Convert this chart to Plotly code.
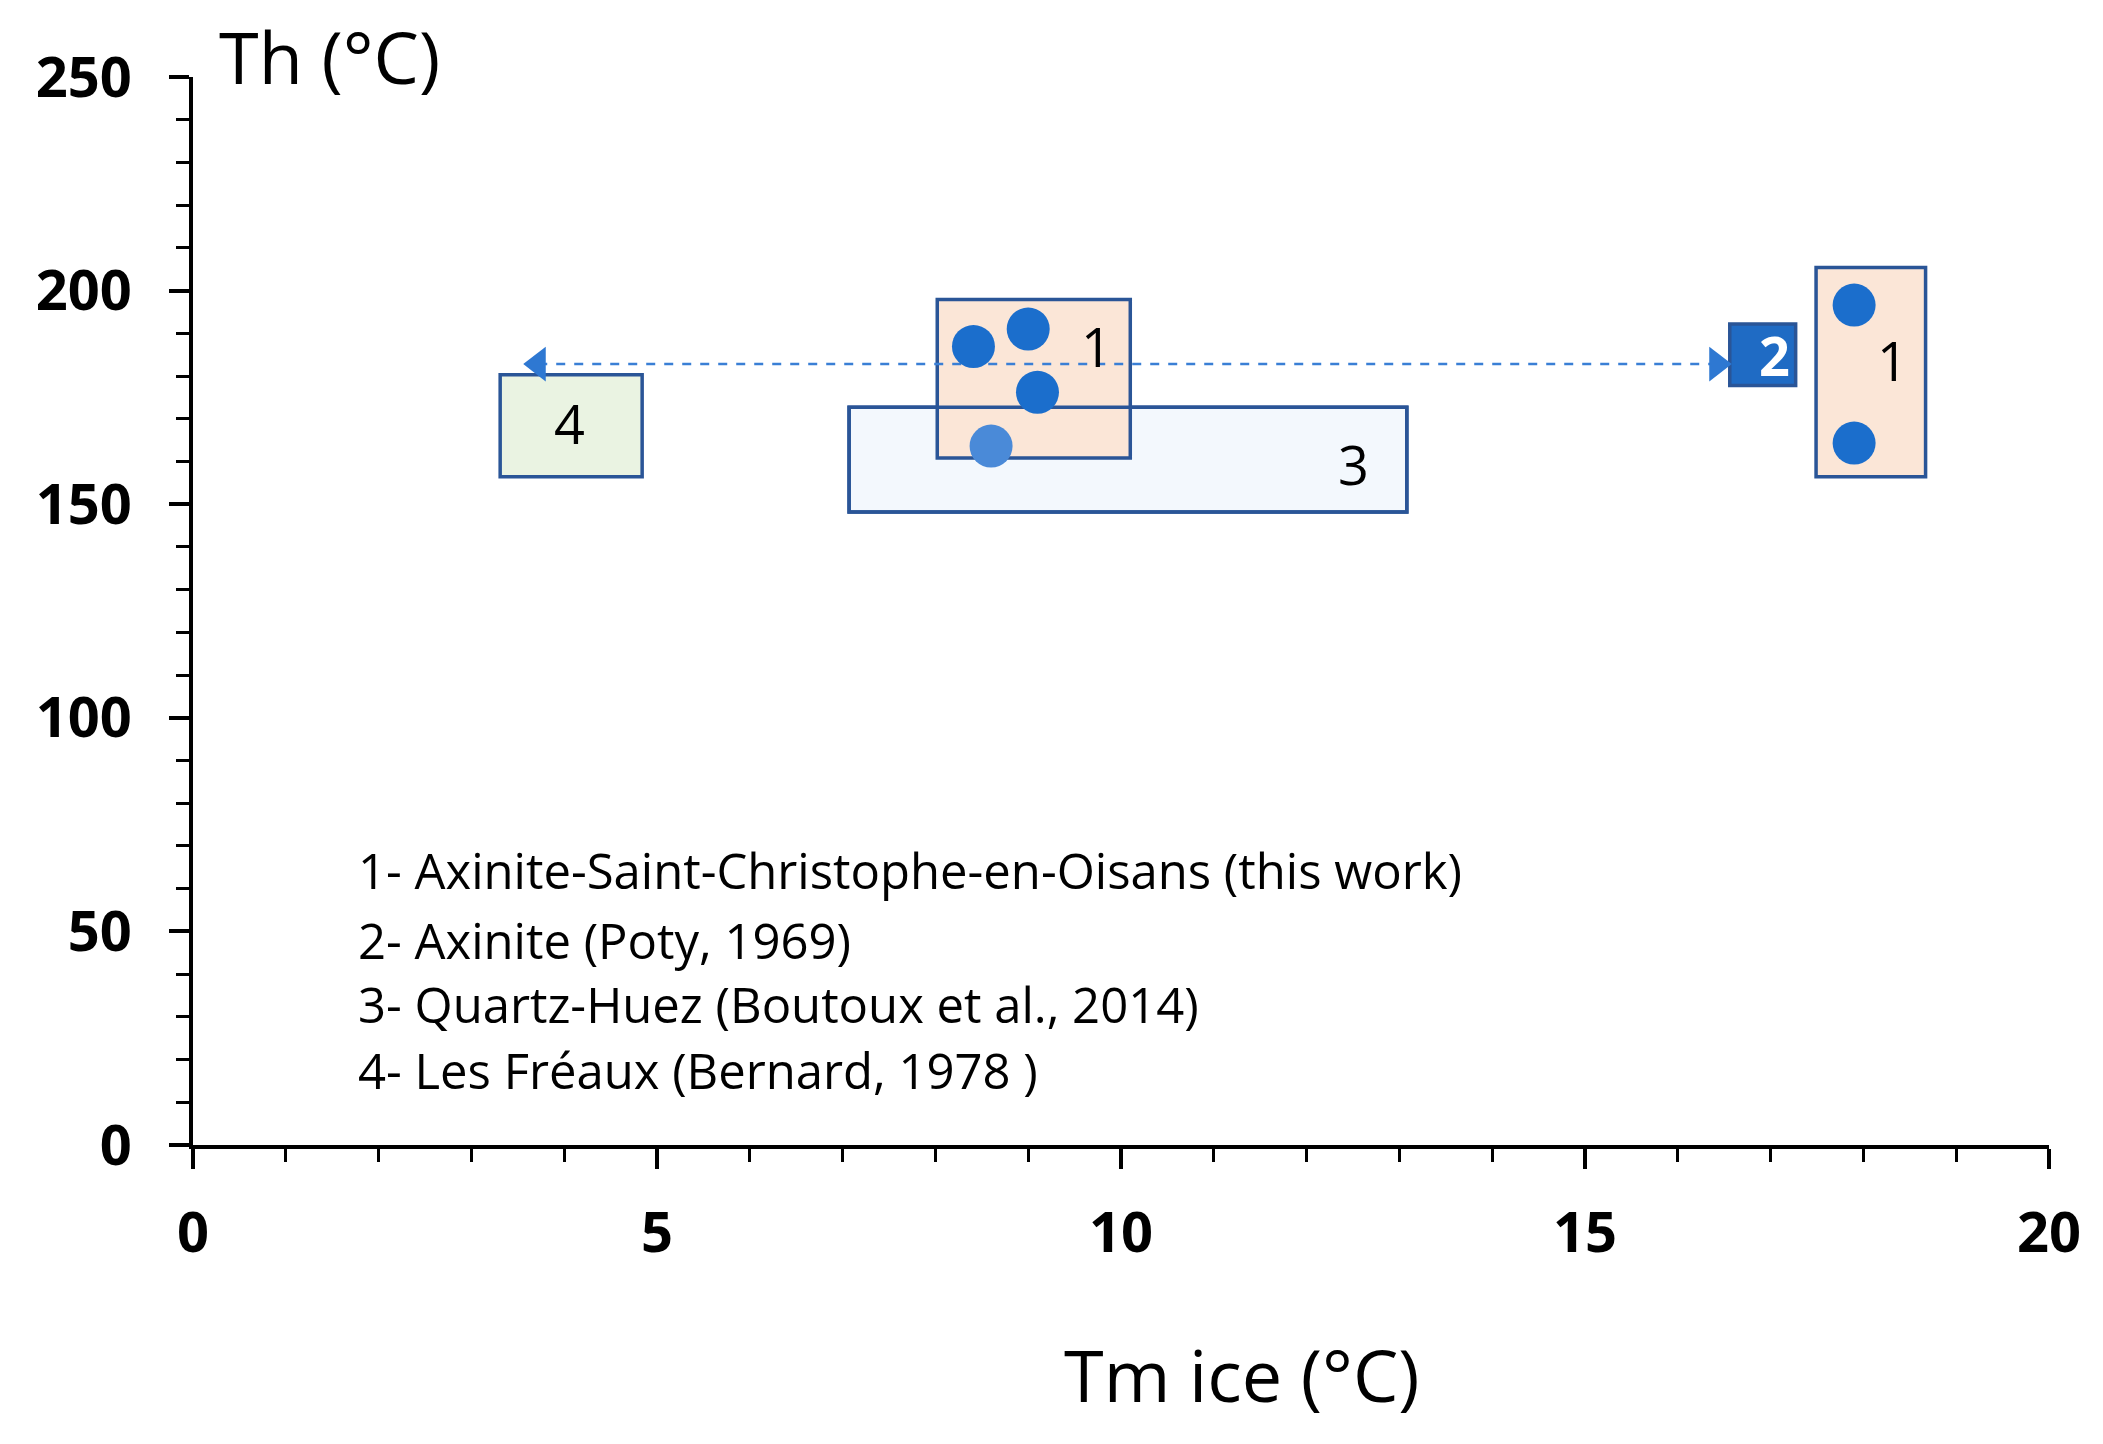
import plotly.graph_objects as go

# fluid inclusion data: Tm ice (x) vs Th (y)
point_x = [8.41, 9.0, 9.10, 8.60, 17.9, 17.9]
point_y = [186.9, 191.0, 176.2, 163.6, 196.6, 164.3]
point_colors = ["#1B6ECC", "#1B6ECC", "#1B6ECC", "#4A8AD8", "#1B6ECC", "#1B6ECC"]

# literature fields (drawn as boxes)
box_labels = ["4", "1", "3", "1", "2"]
box_x0 = [3.31, 8.02, 7.07, 17.49, 16.56]
box_x1 = [4.84, 10.10, 13.08, 18.67, 17.27]
box_y0 = [156.4, 160.8, 148.2, 156.4, 177.8]
box_y1 = [180.3, 197.9, 172.7, 205.4, 192.2]
box_fills = ["#EAF3E2", "#FBE6D7", "#F3F8FD", "#FBE6D7", "#1F6BC4"]
label_x = [4.06, 9.74, 12.5, 18.31, 17.04]
label_y = [169.0, 187.0, 159.5, 183.7, 185.0]

# dashed range arrow for Poty (1969)
arrow_x = [3.72, 16.42]
arrow_y = [182.8, 182.8]

legend_lines = [
    "1- Axinite-Saint-Christophe-en-Oisans (this work)",
    "2- Axinite (Poty, 1969)",
    "3- Quartz-Huez (Boutoux et al., 2014)",
    "4- Les Fréaux (Bernard, 1978 )",
]
legend_y = [64.4, 48.0, 33.0, 17.6]

BORDER = "#2A5597"
FONT = "Open Sans"


def box(i, fill=True):
    return dict(
        type="rect", xref="x", yref="y",
        x0=box_x0[i], x1=box_x1[i], y0=box_y0[i], y1=box_y1[i],
        fillcolor=box_fills[i] if fill else "rgba(0,0,0,0)",
        line=dict(color=BORDER, width=3.5),
        layer="below",
    )


# box 3 underneath, peach box over it, then box 3's outline again on top
shapes = [box(0), box(2), box(1), box(2, fill=False), box(3), box(4)]

fig = go.Figure()
fig.add_trace(go.Scatter(
    x=arrow_x, y=arrow_y, mode="lines",
    line=dict(color="#3A7FD5", width=2.5, dash="dash"),
    showlegend=False, hoverinfo="skip",
))
fig.add_trace(go.Scatter(
    x=arrow_x, y=arrow_y, mode="markers",
    marker=dict(symbol=["triangle-left", "triangle-right"], size=30, color="#2E78D2"),
    showlegend=False, hoverinfo="skip",
))
fig.add_trace(go.Scatter(
    x=point_x, y=point_y, mode="markers",
    marker=dict(size=43, color=point_colors),
    showlegend=False,
))

annotations = []
for i, lab in enumerate(box_labels):
    white = lab == "2"
    annotations.append(dict(
        x=label_x[i], y=label_y[i], xref="x", yref="y", text=lab, showarrow=False,
        font=dict(family=FONT, size=54, color="white" if white else "black",
                  weight="bold" if white else "normal"),
    ))
for txt, yy in zip(legend_lines, legend_y):
    annotations.append(dict(
        x=1.76, y=yy, xref="x", yref="y", text=txt, showarrow=False,
        xanchor="left", yanchor="middle",
        font=dict(family=FONT, size=49, color="black"),
    ))
annotations.append(dict(
    x=0.013, y=1.02, xref="paper", yref="paper", text="Th (°C)", showarrow=False,
    xanchor="left", yanchor="middle", font=dict(family=FONT, size=72, color="black"),
))
annotations.append(dict(
    x=0.565, y=-0.214, xref="paper", yref="paper", text="Tm ice (°C)", showarrow=False,
    xanchor="center", yanchor="middle", font=dict(family=FONT, size=72, color="black"),
))

axis_common = dict(
    showgrid=False, zeroline=False, showline=True, linecolor="black", linewidth=4,
    ticks="outside", tickwidth=4, tickcolor="black",
    tickfont=dict(family=FONT, size=56, color="black", weight="bold"),
)
fig.update_xaxes(
    range=[0, 20], tick0=0, dtick=5, ticklen=20, ticklabelstandoff=16,
    minor=dict(dtick=1, ticks="outside", ticklen=13, tickwidth=3, tickcolor="black"),
    **axis_common,
)
fig.update_yaxes(
    range=[0, 250], tick0=0, dtick=50, ticklen=20, ticklabelstandoff=26,
    minor=dict(dtick=10, ticks="outside", ticklen=13, tickwidth=3, tickcolor="black"),
    **axis_common,
)

fig.update_layout(
    width=2103, height=1444,
    margin=dict(l=185, r=62, t=69, b=307),
    plot_bgcolor="white", paper_bgcolor="white",
    shapes=shapes, annotations=annotations,
    showlegend=False,
)

fig.write_html("out.html")
